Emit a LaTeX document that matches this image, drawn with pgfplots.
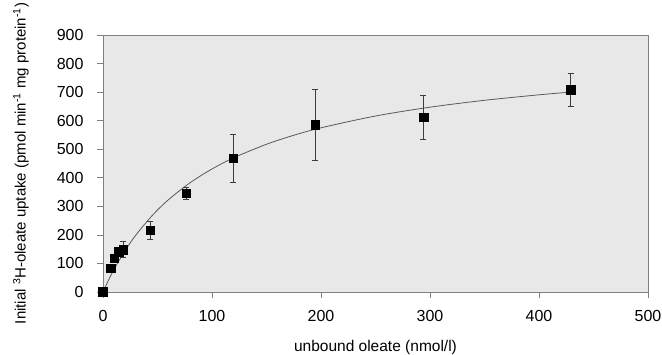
\documentclass[border=0pt]{standalone}
\usepackage{pgfplots}
\pgfplotsset{compat=1.18}
\usepackage{fontspec}
\setmainfont{Liberation Sans}
\definecolor{bggray}{RGB}{232,232,232}
\definecolor{framegray}{RGB}{128,128,128}
\definecolor{curvegray}{RGB}{90,90,90}
\definecolor{errgray}{RGB}{60,60,60}
\pgfplotstableread{
x y e
0 0 0
6.9 84 0
10.2 119 0
14.4 141 8
18.4 148 28
43.2 216 33
76.4 346 20
119.6 468 84
194.5 586 125
294 612 77
429 708 59
}\datatable
\pgfplotstableread{
x y
0 0
5 40.9
10 78.2
20 143.4
30 198.6
45 267.2
60 323.0
80 382.9
100 430.9
120 470.2
150 517.4
175 548.8
200 575.0
250 616.3
300 647.2
350 671.3
400 690.5
430 700.3
}\fittable
\begin{document}
\begin{tikzpicture}
\useasboundingbox (-103pt,-63pt) rectangle (559pt,292pt);
\begin{axis}[
  scale only axis,
  width=545pt, height=257pt,
  xmin=0, xmax=500, ymin=0, ymax=900,
  xtick={0,100,...,500}, ytick={0,100,...,900},
  tick pos=left,
  tick align=outside,
  major tick length=6pt,
  axis background/.style={fill=bggray},
  axis line style={framegray, line width=0.8pt},
  tick style={framegray, line width=0.6pt},
  /pgf/number format/assume math mode=true,
  ticklabel style={font=\fontsize{16}{19}\selectfont},
  xticklabel shift=9pt,
  yticklabel shift=10pt,
  xlabel={unbound oleate (nmol/l)},
  ylabel={Initial \textsuperscript{3}H-oleate uptake (pmol min\textsuperscript{-1} mg protein\textsuperscript{-1})},
  xlabel style={font=\fontsize{15.5}{18}\selectfont, at={(axis description cs:0.5,0)}, anchor=center, yshift=-55pt},
  ylabel style={font=\fontsize{15}{18}\selectfont, at={(axis description cs:0,0.5)}, anchor=center, yshift=82pt},
  clip=false,
]
\addplot[curvegray, line width=0.8pt, smooth, no markers] table[x=x,y=y] {\fittable};
\addplot[only marks, mark=square*, mark size=4.3pt, mark options={fill=black, draw=black},
  error bars/.cd, y dir=both, y explicit,
  error bar style={errgray, line width=0.6pt},
  error mark options={rotate=90, mark size=3pt, errgray, line width=0.6pt}]
  table[x=x, y=y, y error=e] {\datatable};
\end{axis}
\end{tikzpicture}
\end{document}
